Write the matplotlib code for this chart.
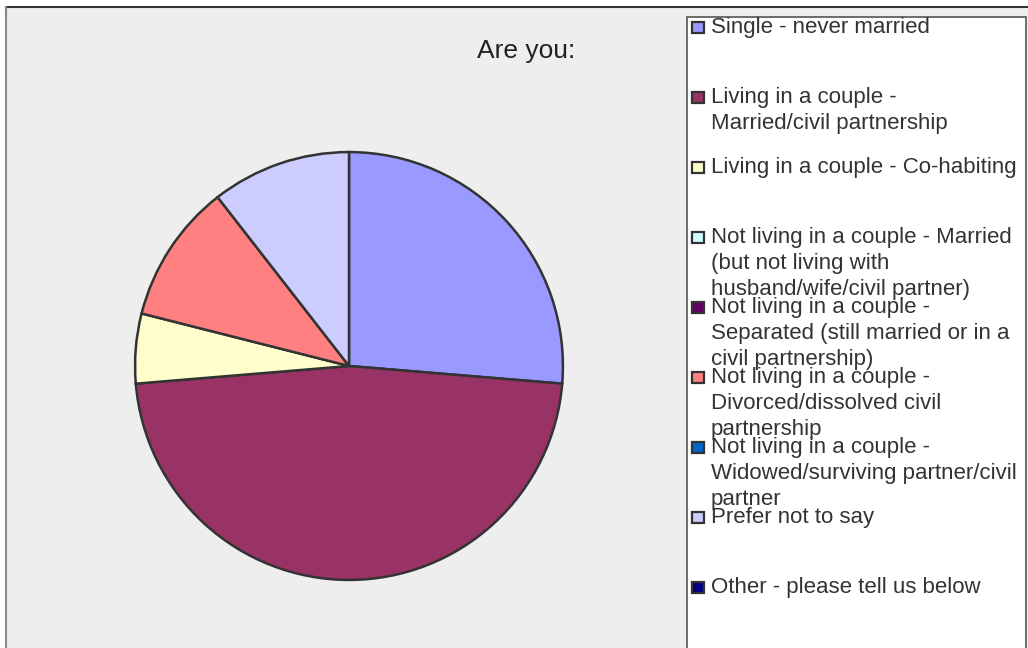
import matplotlib.pyplot as plt
from matplotlib.patches import Rectangle

plt.rcParams['font.family'] = ['Liberation Sans', 'DejaVu Sans']

# survey answers (counts)
labels = ['Single - never married',
          'Living in a couple -\nMarried/civil partnership',
          'Living in a couple - Co-habiting',
          'Not living in a couple - Married\n(but not living with\nhusband/wife/civil partner)',
          'Not living in a couple -\nSeparated (still married or in a\ncivil partnership)',
          'Not living in a couple -\nDivorced/dissolved civil\npartnership',
          'Not living in a couple -\nWidowed/surviving partner/civil\npartner',
          'Prefer not to say',
          'Other - please tell us below']
counts = [5, 9, 1, 0, 0, 2, 0, 2, 0]
colors = ['#9999FF', '#993366', '#FFFFCC', '#CCFFFF', '#660066',
          '#FF8080', '#0066CC', '#CCCCFF', '#000080']

W, H = 1028, 648
fig = plt.figure(figsize=(W / 100, H / 100), dpi=100)
fig.patch.set_facecolor('white')

# grey chart area + borders
fig.patches.append(Rectangle((6 / W, 0), 1 - 6 / W, 1 - 7 / H, transform=fig.transFigure,
                             facecolor='#EEEEEE', edgecolor='none', zorder=0))
fig.add_artist(plt.Line2D([6 / W, 1], [1 - 7 / H, 1 - 7 / H], color='#333333', lw=1.5))
fig.add_artist(plt.Line2D([6 / W, 6 / W], [0, 1 - 7 / H], color='#888888', lw=1.5))

# pie
ax = fig.add_axes([134 / W, (H - 581) / H, 430 / W, 430 / H])
ax.set_zorder(5)
ax.patch.set_visible(False)
vals = [c for c in counts if c > 0]
cols = [col for c, col in zip(counts, colors) if c > 0]
ax.pie(vals, colors=cols, startangle=90, counterclock=False,
       wedgeprops=dict(edgecolor='#333333', linewidth=1.8))
ax.set_xlim(-1.005, 1.005)
ax.set_ylim(-1.005, 1.005)
ax.set_aspect('equal')
ax.axis('off')

fig.text(526 / W, 1 - 58 / H, 'Are you:', fontsize=19, color='#222222',
         ha='center', va='baseline')

# legend box
fig.patches.append(Rectangle((687 / W, -0.01), (1026 - 687) / W, (H - 17) / H + 0.01,
                             transform=fig.transFigure, facecolor='white',
                             edgecolor='#555555', linewidth=1.2, zorder=1))
for i, (lab, col) in enumerate(zip(labels, colors)):
    yc = 27 + 70 * i
    fig.patches.append(Rectangle((692 / W, 1 - (yc + 6) / H), 12 / W, 11 / H,
                                 transform=fig.transFigure, facecolor=col,
                                 edgecolor='#333333', linewidth=1.6, zorder=2))
    fig.text(711 / W, 1 - (yc - 10) / H, lab, fontsize=16, color='#333333',
             ha='left', va='top', linespacing=1.3, zorder=3)

fig.savefig('out.png', dpi=100)
